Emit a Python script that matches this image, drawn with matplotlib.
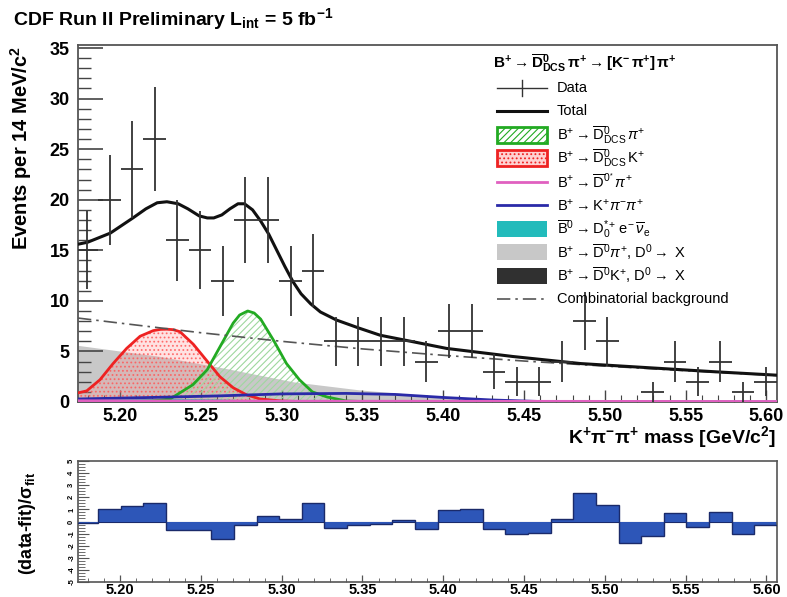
import numpy as np
import matplotlib
matplotlib.use("Agg")
import matplotlib.pyplot as plt
from matplotlib.lines import Line2D
from matplotlib.patches import Rectangle
from matplotlib.ticker import MultipleLocator

plt.rcParams['font.family'] = ['Liberation Sans', 'DejaVu Sans']
plt.rcParams['mathtext.fontset'] = 'custom'
plt.rcParams['mathtext.rm'] = 'Liberation Sans'
plt.rcParams['mathtext.it'] = 'Liberation Sans:italic'
plt.rcParams['mathtext.bf'] = 'Liberation Sans:bold'
plt.rcParams['hatch.linewidth'] = 0.8

# ---------------- data ----------------
bin_lo = 5.1725
bin_w = 0.014
counts = [15, 20, 23, 26, 16, 15, 12, 18, 18, 12, 13, 6, 6, 6, 6, 4,
          7, 7, 3, 2, 2, 4, 8, 6, 0, 1, 4, 2, 4, 1, 2]
residuals = [-0.15, 1.0, 1.27, 1.54, -0.69, -0.69, -1.43, -0.33, 0.44, 0.19,
             1.49, -0.52, -0.33, -0.17, 0.14, -0.63, 0.91, 1.07, -0.66, -1.05,
             -0.94, 0.17, 2.37, 1.4, -1.74, -1.16, 0.69, -0.47, 0.77, -1.02, -0.3]

total_m = [5.174, 5.180, 5.194, 5.208, 5.216, 5.223, 5.229, 5.236, 5.242, 5.249,
           5.254, 5.258, 5.263, 5.268, 5.273, 5.277, 5.282, 5.287, 5.292, 5.297,
           5.302, 5.307, 5.312, 5.318, 5.324, 5.334, 5.348, 5.361, 5.380, 5.402,
           5.443, 5.485, 5.526, 5.567, 5.6065]
total_v = [15.6, 15.8, 16.7, 18.2, 19.1, 19.7, 19.8, 19.6, 19.1, 18.4,
           18.2, 18.2, 18.5, 19.1, 19.6, 19.6, 19.0, 17.9, 16.6, 15.0,
           13.4, 11.9, 10.7, 9.7, 8.9, 8.1, 7.3, 6.6, 6.0, 5.3,
           4.5, 3.8, 3.4, 3.0, 2.65]

comb_m = [5.174, 5.20, 5.25, 5.30, 5.35, 5.40, 5.45, 5.50, 5.55, 5.6065]
comb_v = [8.3, 7.8, 6.85, 6.0, 5.25, 4.62, 4.05, 3.55, 3.1, 2.62]

red_m = [5.174, 5.1794, 5.1876, 5.1957, 5.2041, 5.2124, 5.2206, 5.2250, 5.2289,
         5.2330, 5.2371, 5.2454, 5.2536, 5.2618, 5.2701, 5.2784, 5.2866, 5.30, 5.32]
red_v = [0.9, 1.1, 2.2, 3.8, 5.3, 6.5, 7.06, 7.18, 7.2, 7.15, 6.95, 5.7, 4.1, 2.5,
         1.4, 0.7, 0.3, 0.1, 0.0]

green_m = [5.174, 5.20, 5.22, 5.231, 5.237, 5.245, 5.254, 5.262, 5.270, 5.274,
           5.279, 5.283, 5.287, 5.295, 5.303, 5.311, 5.319, 5.328, 5.34, 5.36]
green_v = [0.0, 0.02, 0.1, 0.3, 0.9, 1.7, 3.2, 5.5, 7.8, 8.6,
           9.0, 8.8, 8.2, 6.1, 3.8, 2.2, 1.0, 0.5, 0.1, 0.0]

gray_m = [5.174, 5.225, 5.266, 5.307, 5.348, 5.40, 5.44, 5.47]
gray_v = [5.6, 4.5, 3.3, 2.0, 1.2, 0.5, 0.1, 0.0]

blue_m = [5.174, 5.22, 5.26, 5.30, 5.34, 5.37, 5.40, 5.43, 5.46, 5.50, 5.6065]
blue_v = [0.3, 0.45, 0.6, 0.8, 0.85, 0.75, 0.45, 0.2, 0.05, 0.0, 0.0]

cyan_m = [5.174, 5.22, 5.26, 5.30, 5.34, 5.40]
cyan_v = [0.3, 0.35, 0.3, 0.15, 0.02, 0.0]

dark_m = [5.174, 5.21, 5.25]
dark_v = [0.08, 0.03, 0.0]

mag_m = [5.174, 5.30, 5.6065]
mag_v = [0.12, 0.08, 0.05]

xticks = [5.20, 5.25, 5.30, 5.35, 5.40, 5.45, 5.50, 5.55, 5.60]

legend_header = r'$\mathbf{B^{+}\rightarrow\overline{D}^{0}_{DCS}\,\pi^{+}\rightarrow[K^{-}\,\pi^{+}]\,\pi^{+}}$'
legend_labels = [
    'Data',
    'Total',
    r'B$^{+}\rightarrow\overline{\mathrm{D}}^{0}_{\mathrm{DCS}}\,\pi^{+}$',
    r'B$^{+}\rightarrow\overline{\mathrm{D}}^{0}_{\mathrm{DCS}}\,$K$^{+}$',
    r'B$^{+}\rightarrow\overline{\mathrm{D}}^{0^{*}}\,\pi^{+}$',
    r'B$^{+}\rightarrow$K$^{+}\pi^{-}\pi^{+}$',
    r'$\overline{\mathrm{B}}^{0}\rightarrow\mathrm{D}_{0}^{*+}\,\mathrm{e}^{-}\,\overline{\nu}_{\mathrm{e}}$',
    r'B$^{+}\rightarrow\overline{\mathrm{D}}^{0}\pi^{+}$, D$^{0}\rightarrow$ X',
    r'B$^{+}\rightarrow\overline{\mathrm{D}}^{0}$K$^{+}$, D$^{0}\rightarrow$ X',
    'Combinatorial background',
]

# ---------------- figure ----------------
W, H = 787, 597
fig = plt.figure(figsize=(W / 100, H / 100), dpi=100)
ax = fig.add_axes([78 / W, 1 - 402 / H, 699 / W, (402 - 45) / H])
rax = fig.add_axes([78 / W, 1 - 582 / H, 699 / W, (582 - 461) / H])

xmin, xmax = 5.174, 5.6065
counts = np.array(counts, float)
nb = len(counts)
edges = bin_lo + bin_w * np.arange(nb + 1)
centers = 0.5 * (edges[:-1] + edges[1:])

C_GRAY = '#c8c8c8'
C_DARK = '#303030'
C_RED = '#ee2222'
C_GREEN = '#22aa22'
C_BLUE = '#2a2aa8'
C_MAG = '#e060c0'
C_CYAN = '#22bbbb'
C_COMB = '#555555'
COMB_LS = (0, (8, 3, 1.5, 3))

# components
ax.fill_between(gray_m, 0, gray_v, color=C_GRAY, lw=0, zorder=1)
ax.fill_between(dark_m, 0, dark_v, color=C_DARK, lw=0, zorder=1.2)
ax.fill_between(red_m, 0, red_v, facecolor=(1, 0.55, 0.55, 0.25), lw=0, zorder=2)
ax.fill_between(red_m, 0, red_v, facecolor='none', edgecolor=(1, 0.35, 0.35, 0.8),
                hatch='....', lw=0, zorder=2.1)
ax.fill_between(green_m, 0, green_v, facecolor='none', edgecolor='#9ed89e',
                hatch='/////', lw=0, zorder=2.2)
ax.fill_between(cyan_m, 0, cyan_v, color=C_CYAN, lw=0, zorder=2.5)
ax.plot(red_m, red_v, color=C_RED, lw=2.0, zorder=3)
ax.plot(green_m, green_v, color=C_GREEN, lw=2.0, zorder=3)
ax.plot(blue_m, blue_v, color=C_BLUE, lw=2.0, zorder=3.1)
ax.plot(mag_m, mag_v, color=C_MAG, lw=2.0, zorder=3.2)
ax.plot(comb_m, comb_v, color=C_COMB, lw=1.2, ls=COMB_LS, zorder=3.5)
ax.plot(total_m, total_v, color='#111111', lw=2.2, zorder=4)

mask = counts > 0
ax.errorbar(centers[mask], counts[mask], xerr=bin_w / 2, yerr=np.sqrt(counts[mask]),
            fmt='none', ecolor='#333333', elinewidth=1.3, capsize=0, zorder=5)

ax.set_xlim(xmin, xmax)
ax.set_ylim(0, 35.3)
ax.set_xticks(xticks)
ax.set_xticklabels(['%.2f' % t for t in xticks], fontweight='bold')
ax.xaxis.set_minor_locator(MultipleLocator(0.01))
ax.yaxis.set_major_locator(MultipleLocator(5))
ax.yaxis.set_minor_locator(MultipleLocator(1))
ax.tick_params(axis='y', which='major', direction='in', length=18, width=1.2,
               labelsize=13, pad=6, color='#444444')
ax.tick_params(axis='y', which='minor', direction='in', length=9, width=1.0,
               color='#444444')
ax.tick_params(axis='x', which='major', direction='in', length=9, width=1.0,
               labelsize=13, pad=4, color='#444444')
ax.tick_params(axis='x', which='minor', direction='in', length=5, width=0.8,
               color='#444444')
for lab in ax.get_xticklabels() + ax.get_yticklabels():
    lab.set_fontweight('bold')
for s in ax.spines.values():
    s.set_linewidth(1.3)
    s.set_color('#555555')

# titles and labels
fig.text(13 / W, 1 - 25 / H,
         r'CDF Run II Preliminary L$_{\mathbf{int}}$ = 5 fb$^{\mathbf{-1}}$',
         fontsize=14, fontweight='bold', ha='left', va='baseline')
fig.text(21 / W, 1 - 46 / H, r'Events per 14 MeV/c$^{\mathbf{2}}$',
         rotation=90, fontsize=14.5, fontweight='bold', ha='center', va='top')
fig.text(776 / W, 1 - 437 / H,
         r'K$^{\mathbf{+}}$π$^{\mathbf{-}}$π$^{\mathbf{+}}$ mass [GeV/c$^{\mathbf{2}}$]',
         fontsize=14, fontweight='bold', ha='right', va='center')

# legend (drawn in figure pixel coordinates)
def fx(px):
    return px / W


def fy(py):
    return 1 - py / H


tf = fig.transFigure
fig.text(fx(493), fy(63), legend_header, fontsize=11, ha='left', va='center')
x0, x1 = 497, 547
for i, lab in enumerate(legend_labels):
    yc = 88 + 23.45 * i
    if i == 0:
        fig.add_artist(Line2D([fx(x0), fx(x1)], [fy(yc), fy(yc)], transform=tf,
                              color='#333333', lw=1.0))
        fig.add_artist(Line2D([fx(522), fx(522)], [fy(yc - 8), fy(yc + 8)],
                              transform=tf, color='#333333', lw=1.0))
    elif i in (1, 4, 5, 9):
        col = {1: '#111111', 4: C_MAG, 5: C_BLUE, 9: C_COMB}[i]
        lw = {1: 2.2, 4: 2.0, 5: 2.0, 9: 1.2}[i]
        ls = COMB_LS if i == 9 else '-'
        fig.add_artist(Line2D([fx(x0), fx(x1)], [fy(yc), fy(yc)], transform=tf,
                              color=col, lw=lw, ls=ls))
    else:
        if i == 2:
            kw = dict(facecolor='white', edgecolor=C_GREEN, hatch='/////', lw=2.0)
        elif i == 3:
            kw = dict(facecolor=(1, 0.82, 0.82), edgecolor=C_RED, hatch='....', lw=2.0)
        elif i == 6:
            kw = dict(facecolor=C_CYAN, edgecolor=C_CYAN, lw=0)
        elif i == 7:
            kw = dict(facecolor=C_GRAY, edgecolor=C_GRAY, lw=0)
        else:
            kw = dict(facecolor=C_DARK, edgecolor=C_DARK, lw=0)
        fig.add_artist(Rectangle((fx(x0), fy(yc + 8)), fx(x1) - fx(x0),
                                 fy(yc - 8) - fy(yc + 8), transform=tf, **kw))
    fig.text(fx(557), fy(yc), lab, fontsize=10.5, ha='left', va='center')

# residual panel
rax.stairs(residuals, edges, baseline=0, fill=True, color='#2d56b8', zorder=2)
rax.stairs(residuals, edges, baseline=None, color='#1a2a6a', lw=1.0, zorder=3)
rax.axhline(0, color='#1a2a6a', lw=0.8, zorder=1)
rax.set_xlim(xmin, xmax)
rax.set_ylim(-5, 5)
rax.set_xticks(xticks)
rax.set_xticklabels(['%.2f' % t for t in xticks], fontweight='bold')
rax.xaxis.set_minor_locator(MultipleLocator(0.01))
rax.set_yticks(range(-5, 6))
rax.yaxis.set_minor_locator(MultipleLocator(0.25))
rax.set_yticklabels([str(v) for v in range(-5, 6)], rotation=90, fontsize=5.5,
                    fontweight='bold', va='center')
rax.tick_params(axis='y', which='major', direction='in', length=8, width=0.8,
                pad=2, color='#555555')
rax.tick_params(axis='y', which='minor', direction='in', length=5, width=0.6,
                color='#555555')
rax.tick_params(axis='x', which='major', direction='in', length=5, width=0.9,
                labelsize=10.5, pad=1, color='#555555')
rax.tick_params(axis='x', which='minor', direction='in', length=3, width=0.6,
                color='#555555')
for s in rax.spines.values():
    s.set_linewidth(1.2)
    s.set_color('#555555')
fig.text(27 / W, 1 - 523 / H, r'(data-fit)/$\mathbf{\sigma_{fit}}$', rotation=90,
         fontsize=13, fontweight='bold', ha='center', va='center')

fig.savefig('out.png', dpi=100)
